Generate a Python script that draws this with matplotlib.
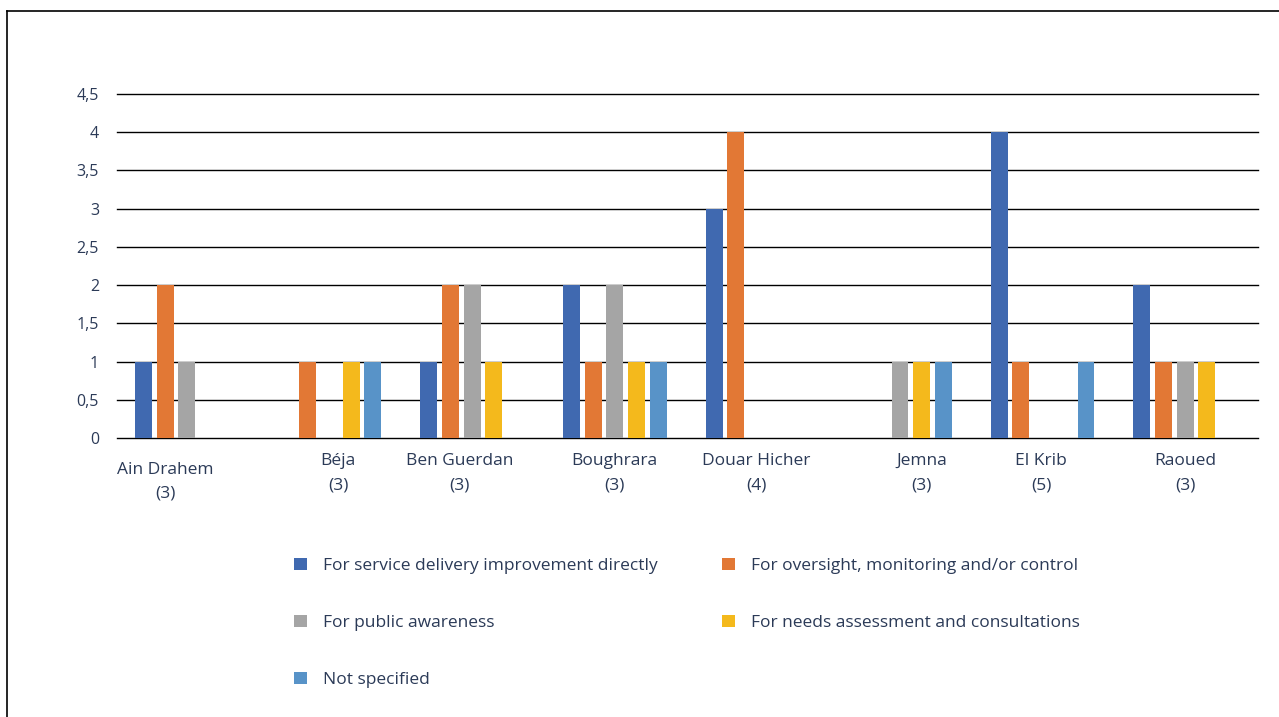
import numpy as np
import matplotlib
matplotlib.use("Agg")
import matplotlib.pyplot as plt
from matplotlib.lines import Line2D
from matplotlib.patches import Patch

plt.rcParams['font.family'] = ['Open Sans', 'DejaVu Sans']

# communes and number of projects
communes = ["Ain Drahem", "Béja", "Ben Guerdan", "Boughrara", "Douar Hicher", "Jemna", "El Krib", "Raoued"]
counts = [3, 3, 3, 3, 4, 3, 5, 3]

series_names = [
    "For service delivery improvement directly",
    "For oversight, monitoring and/or control",
    "For public awareness",
    "For needs assessment and consultations",
    "Not specified",
]
service = [1, 0, 1, 2, 3, 0, 4, 2]
oversight = [2, 1, 2, 1, 4, 0, 1, 1]
awareness = [1, 0, 2, 2, 0, 1, 0, 1]
needs = [0, 1, 1, 1, 0, 1, 0, 1]
unspecified = [0, 1, 0, 1, 0, 1, 1, 0]

colors = ["#4069b0", "#e27835", "#a5a5a5", "#f4b91c", "#5893c8"]
text_col = "#2b3a57"

# small nudges for the category labels (x in group units, y in points)
label_dx = [-0.16, 0.05, -0.10, -0.01, -0.02, 0.14, -0.02, -0.01]
label_dy = [-6, 0, 0, 0, 0, 0, 0, 0]

fig = plt.figure(figsize=(12.79, 7.17), dpi=100)
ax = fig.add_axes([117 / 1279, 1 - 438 / 717, (1258 - 117) / 1279, (438 - 94) / 717])

x = np.arange(len(communes))
step = 0.152
width = 0.119
all_series = [service, oversight, awareness, needs, unspecified]
for i, vals in enumerate(all_series):
    ax.bar(x + (i - 2) * step - 0.01, vals, width, color=colors[i], zorder=3, label=series_names[i])

ax.set_xlim(-0.5, len(communes) - 0.5)
ax.set_ylim(0, 4.5)
yt = np.arange(0, 4.51, 0.5)
ax.set_yticks(yt)
ax.set_yticklabels([("%g" % v).replace(".", ",") for v in yt], color=text_col, fontsize=11.5)
ax.tick_params(axis="y", length=0, pad=13)
ax.set_xticks([])
ax.grid(axis="y", color="black", linewidth=1.0, zorder=0)
for gl in ax.get_ygridlines():
    gl.set_clip_on(False)
for s in ax.spines.values():
    s.set_visible(False)

for i, name in enumerate(communes):
    ax.annotate(f"{name}\n({counts[i]})", xy=(x[i] + label_dx[i], 0), xycoords="data",
                xytext=(0, -11 + label_dy[i]), textcoords="offset points",
                ha="center", va="top", fontsize=12.5, color=text_col, linespacing=1.65)

# legend filled row by row: two columns
order = [0, 2, 4, 1, 3]
handles = [Patch(facecolor=colors[k], edgecolor="none") for k in order]
labels = [series_names[k] for k in order]
fig.legend(handles, labels, loc="upper left", bbox_to_anchor=(278 / 1279, 1 - 542 / 717),
           ncol=2, frameon=False, fontsize=12.5, labelcolor=text_col,
           handlelength=0.75, handleheight=0.75, handletextpad=0.92,
           columnspacing=3.75, labelspacing=2.34)

# frame lines on the left and top of the figure
fig.add_artist(Line2D([7 / 1279, 7 / 1279], [0, 1 - 11 / 717], color="black", linewidth=1.2,
                      transform=fig.transFigure))
fig.add_artist(Line2D([7 / 1279, 1], [1 - 11 / 717, 1 - 11 / 717], color="black", linewidth=1.2,
                      transform=fig.transFigure))

fig.savefig("out.png", dpi=100, facecolor="white")
